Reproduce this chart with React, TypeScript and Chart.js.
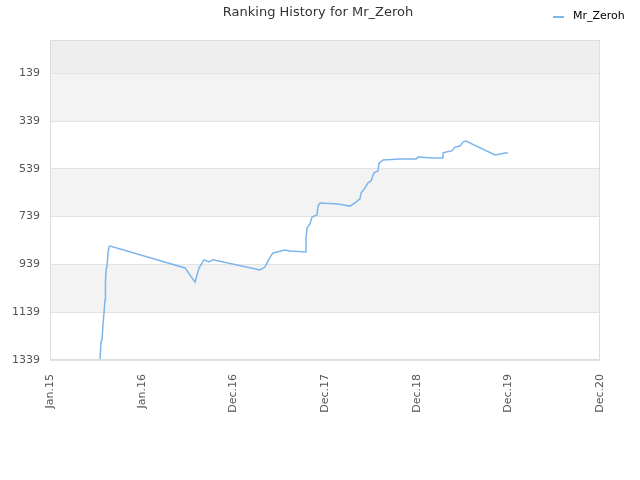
import React, { useEffect, useRef } from "react";
import { Chart, registerables } from "chart.js";

Chart.register(...registerables);

const TITLE = "Ranking History for Mr_Zeroh";
const SERIES_NAME = "Mr_Zeroh";
const X_TICK_LABELS = ["Jan.15", "Jan.16", "Dec.16", "Dec.17", "Dec.18", "Dec.19", "Dec.20"];
const Y_TICKS = [139, 339, 539, 739, 939, 1139, 1339];

// x: position in tick units (0 = Jan.15 ... 6 = Dec.20), y: rank
const RANK_X = [
  0.545, 0.556, 0.567, 0.578, 0.589, 0.6, 0.605, 0.611, 0.622, 0.633, 0.644, 0.655,
  1.473, 1.484, 1.582, 1.625, 1.68, 1.734, 1.778, 2.291, 2.345, 2.389, 2.433, 2.476,
  2.564, 2.618, 2.793, 2.793, 2.804, 2.836, 2.858, 2.913, 2.924, 2.945, 3.142, 3.273,
  3.338, 3.382, 3.393, 3.436, 3.469, 3.502, 3.534, 3.578, 3.589, 3.633, 3.818, 3.993,
  4.015, 4.167, 4.287, 4.287, 4.32, 4.385, 4.418, 4.473, 4.505, 4.538, 4.854, 4.964, 4.996,
];
const RANK_Y = [
  1339, 1264, 1255, 1192, 1142, 1088, 1017, 962, 946, 891, 866, 862,
  954, 960, 1013, 954, 920, 929, 920, 962, 950, 916, 891, 887,
  879, 883, 887, 828, 787, 770, 741, 732, 695, 682, 686, 695,
  678, 665, 640, 619, 598, 590, 556, 548, 515, 502, 498, 498,
  490, 494, 494, 473, 469, 464, 448, 444, 427, 423, 481, 473, 473,
];

const LINE_COLOR = "#7cb5ec";
const FONT = "'DejaVu Sans', sans-serif";

export default function App() {
  const ref = useRef<HTMLCanvasElement | null>(null);

  useEffect(() => {
    const canvas = ref.current;
    if (!canvas) return;
    const data = RANK_X.map((x, i) => ({ x, y: RANK_Y[i] }));

    const decor = {
      id: "decor",
      beforeDraw(chart: any) {
        const { ctx, chartArea } = chart;
        const ys = chart.scales.y;
        ctx.save();
        ctx.fillStyle = "#ffffff";
        ctx.fillRect(0, 0, chart.width, chart.height);
        const bounds = [0, ...Y_TICKS];
        for (let i = 0; i < bounds.length - 1; i++) {
          let col = "";
          if (i === 0) col = "#eeeeee";
          else if (i % 2 === 1) col = "#f3f3f3";
          if (!col) continue;
          const y1 = ys.getPixelForValue(bounds[i]);
          const y2 = ys.getPixelForValue(bounds[i + 1]);
          ctx.fillStyle = col;
          ctx.fillRect(chartArea.left, y1, chartArea.right - chartArea.left, y2 - y1);
        }
        ctx.restore();
      },
      afterDraw(chart: any) {
        const { ctx, chartArea } = chart;
        ctx.save();
        ctx.strokeStyle = "#dddddd";
        ctx.lineWidth = 1;
        ctx.strokeRect(
          chartArea.left + 0.5,
          chartArea.top + 0.5,
          chartArea.right - chartArea.left - 1,
          chartArea.bottom - chartArea.top - 1
        );
        // title
        ctx.fillStyle = "#333333";
        ctx.font = `13px ${FONT}`;
        ctx.textAlign = "center";
        ctx.textBaseline = "middle";
        ctx.fillText(TITLE, 318, 13);
        // legend
        ctx.strokeStyle = LINE_COLOR;
        ctx.lineWidth = 2;
        ctx.beginPath();
        ctx.moveTo(553, 17);
        ctx.lineTo(564, 17);
        ctx.stroke();
        ctx.fillStyle = "#000000";
        ctx.font = `11px ${FONT}`;
        ctx.textAlign = "left";
        ctx.fillText(SERIES_NAME, 573, 16);
        ctx.restore();
      },
    };

    const chart = new Chart(canvas, {
      type: "line",
      data: {
        datasets: [
          {
            label: SERIES_NAME,
            data,
            borderColor: LINE_COLOR,
            backgroundColor: LINE_COLOR,
            borderWidth: 1.5,
            pointRadius: 0,
            tension: 0,
            fill: false,
          },
        ],
      },
      options: {
        responsive: false,
        animation: false,
        layout: { padding: { left: 0, right: 40, top: 40, bottom: 0 } },
        plugins: {
          legend: { display: false },
          title: { display: false },
          tooltip: { enabled: false },
        },
        scales: {
          x: {
            type: "linear",
            min: 0,
            max: 6,
            afterBuildTicks: (s: any) => {
              s.ticks = X_TICK_LABELS.map((_, i) => ({ value: i }));
            },
            afterFit: (s: any) => {
              s.height = 120;
            },
            grid: { display: false, drawTicks: false },
            border: { display: false },
            ticks: {
              minRotation: 90,
              maxRotation: 90,
              padding: 14,
              color: "#555555",
              font: { family: FONT, size: 11 },
              callback: (v: any) => X_TICK_LABELS[Math.round(Number(v))] ?? "",
            },
          },
          y: {
            type: "linear",
            reverse: true,
            min: 0,
            max: 1339,
            afterBuildTicks: (s: any) => {
              s.ticks = Y_TICKS.map((v) => ({ value: v }));
            },
            afterFit: (s: any) => {
              s.width = 50;
            },
            grid: { color: "#e3e3e3", drawTicks: false },
            border: { display: false },
            ticks: {
              padding: 10,
              color: "#555555",
              font: { family: FONT, size: 11 },
              callback: (v: any) => String(v),
            },
          },
        },
      },
      plugins: [decor],
    });

    return () => chart.destroy();
  }, []);

  return (
    <div style={{ position: "absolute", left: 0, top: 0, width: 640, height: 480, background: "#fff" }}>
      <canvas ref={ref} width={640} height={480} style={{ width: 640, height: 480, display: "block" }} />
    </div>
  );
}
